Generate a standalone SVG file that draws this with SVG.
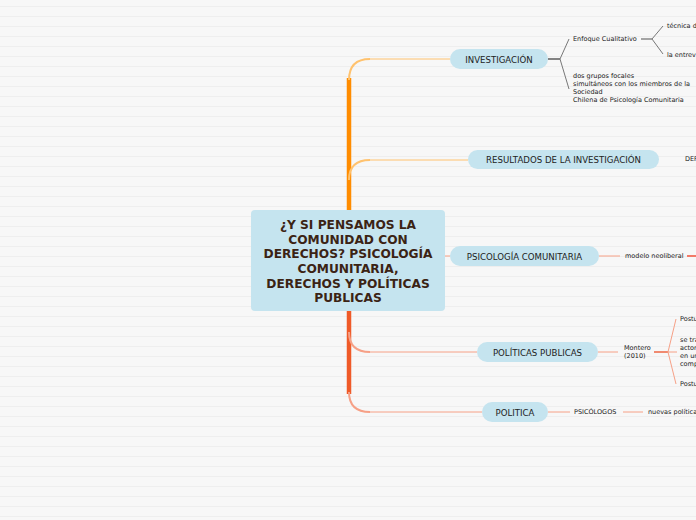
<svg xmlns="http://www.w3.org/2000/svg" width="696" height="520" viewBox="0 0 696 520">
<defs>
<pattern id="bg" x="0" y="6" width="696" height="10" patternUnits="userSpaceOnUse">
<rect width="696" height="10" fill="#f7f7f7"/>
<rect width="696" height="1" fill="#eeeeee"/>
</pattern>
<linearGradient id="grayfade" x1="0" x2="1" y1="0" y2="0">
<stop offset="0" stop-color="#999"/><stop offset="1" stop-color="#ddd"/>
</linearGradient>
</defs>
<style>
.pill{fill:#c5e4ef;}
.nt{font-family:"DejaVu Sans",Verdana,sans-serif;font-size:8.6px;fill:#222;text-anchor:middle;dominant-baseline:central;}
.st{font-family:"DejaVu Sans",Verdana,sans-serif;font-size:6.5px;fill:#222;dominant-baseline:central;}
.ct{font-family:"DejaVu Sans",Verdana,sans-serif;font-size:12.2px;font-weight:bold;fill:#3b2314;text-anchor:middle;}
.or{stroke:#ffc26e;fill:none;}
.rd{stroke:#f6a086;fill:none;}
.gy{stroke:#777;fill:none;stroke-width:1;}
</style>
<rect width="696" height="520" fill="url(#bg)"/>
<g id="connectors">
<line x1="349" y1="78" x2="349" y2="212" stroke="#ff8c00" stroke-width="4.5"/>
<path d="M349,80 Q349,59 370,59" class="or" stroke="#ffa030" stroke-width="2"/>
<line x1="370" y1="59" x2="450" y2="59" class="or" stroke-width="1"/>
<path d="M349,180 Q349,160 370,160" class="or" stroke="#ffa030" stroke-width="2"/>
<line x1="370" y1="160" x2="468" y2="160" class="or" stroke-width="1"/>
<line x1="445" y1="256" x2="450" y2="256" class="rd" stroke-width="1"/>
<line x1="349" y1="310" x2="349" y2="394" stroke="#ef5a28" stroke-width="4.5"/>
<path d="M349,332 Q349,352 370,352" class="rd" stroke="#f07048" stroke-width="2"/>
<line x1="370" y1="352" x2="477" y2="352" class="rd" stroke-width="1"/>
<path d="M349,392 Q349,412 370,412" class="rd" stroke="#f07048" stroke-width="2"/>
<line x1="370" y1="412" x2="482" y2="412" class="rd" stroke-width="1"/>
<line x1="548" y1="59" x2="560" y2="59" stroke="#333" stroke-width="1.2"/>
<path d="M569,39 L560,59 L569,89" class="gy"/>
<line x1="641" y1="39" x2="652" y2="39" stroke="#888" stroke-width="1.5"/>
<path d="M663,26 L652,39 L663,54" class="gy"/>
<line x1="659" y1="159" x2="680" y2="159" stroke="url(#grayfade)" stroke-width="1.2"/>
<line x1="599" y1="256" x2="620" y2="256" class="rd" stroke-width="1"/>
<line x1="687" y1="256" x2="696" y2="256" stroke="#f27a68" stroke-width="2"/>
<line x1="598" y1="352" x2="618" y2="352" class="rd" stroke-width="1"/>
<line x1="654" y1="352" x2="668" y2="352" stroke="#f08a70" stroke-width="2"/>
<path d="M676,319 L668,352 L676,384" class="rd" stroke-width="1"/>
<line x1="668" y1="352" x2="677" y2="352" class="rd" stroke-width="1"/>
<line x1="548" y1="412" x2="570" y2="412" class="rd" stroke-width="1"/>
<line x1="623" y1="412" x2="643" y2="412" class="rd" stroke-width="1"/>
</g>
<g id="center">
<rect x="251" y="210" width="194" height="101" rx="4" class="pill"/>
<text class="ct" x="348"><tspan x="348" y="229">¿Y SI PENSAMOS LA</tspan><tspan x="348" y="244">COMUNIDAD CON</tspan><tspan x="348" y="258">DERECHOS? PSICOLOGÍA</tspan><tspan x="348" y="273">COMUNITARIA,</tspan><tspan x="348" y="288">DERECHOS Y POLÍTICAS</tspan><tspan x="348" y="302">PUBLICAS</tspan></text>
</g>
<g id="investigacion">
<rect x="450" y="49" width="98" height="20" rx="10" class="pill"/>
<text class="nt" x="499" y="59.5">INVESTIGACIÓN</text>
</g>
<g id="enfoque"><text class="st" x="573" y="39">Enfoque Cualitativo</text></g>
<g id="tecnica"><text class="st" x="667" y="26">técnica d</text></g>
<g id="entrevista"><text class="st" x="667" y="55">la entrev</text></g>
<g id="grupos">
<text class="st" x="573"><tspan x="573" y="76">dos grupos focales</tspan><tspan x="573" y="84">simultáneos con los miembros de la</tspan><tspan x="573" y="92">Sociedad</tspan><tspan x="573" y="100">Chilena de Psicología Comunitaria</tspan></text>
</g>
<g id="resultados">
<rect x="468" y="150" width="191" height="19" rx="9.5" class="pill"/>
<text class="nt" x="563.5" y="160">RESULTADOS DE LA INVESTIGACIÓN</text>
</g>
<g id="def"><text class="st" x="685" y="159">DEF</text></g>
<g id="psicologia">
<rect x="450" y="246" width="149" height="20" rx="10" class="pill"/>
<text class="nt" x="524.5" y="256.5">PSICOLOGÍA COMUNITARIA</text>
</g>
<g id="modelo"><text class="st" x="625" y="256">modelo neoliberal</text></g>
<g id="politicas">
<rect x="477" y="342" width="121" height="20" rx="10" class="pill"/>
<text class="nt" x="537.5" y="352.5">POLÍTICAS PUBLICAS</text>
</g>
<g id="montero"><text class="st" x="624"><tspan x="624" y="348">Montero</tspan><tspan x="624" y="356">(2010)</tspan></text></g>
<g id="postu1"><text class="st" x="680" y="319">Postu</text></g>
<g id="setra"><text class="st" x="680"><tspan x="680" y="340">se tra</tspan><tspan x="680" y="348">actor</tspan><tspan x="680" y="356">en un</tspan><tspan x="680" y="364">comp</tspan></text></g>
<g id="postu2"><text class="st" x="680" y="384">Postu</text></g>
<g id="politica">
<rect x="482" y="402" width="66" height="20" rx="10" class="pill"/>
<text class="nt" x="515" y="412.5">POLITICA</text>
</g>
<g id="psicologos"><text class="st" x="574" y="412">PSICÓLOGOS</text></g>
<g id="nuevas"><text class="st" x="648" y="412">nuevas política</text></g>
</svg>
